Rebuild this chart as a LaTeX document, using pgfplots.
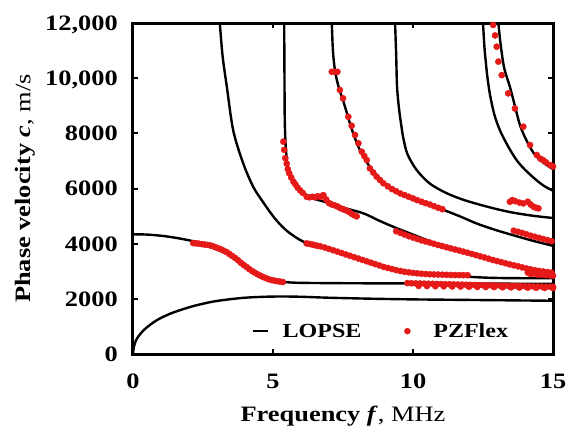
\documentclass[border=0pt]{standalone}
\usepackage{fontspec}
\setmainfont{Liberation Serif}[FakeStretch=1.2]
\usepackage{pgfplots}
\pgfplotsset{compat=1.18}
\definecolor{pzred}{RGB}{230,25,25}

\begin{document}
\begin{tikzpicture}
\begin{axis}[
  scale only axis, width=420bp, height=331bp,
  xmin=0, xmax=15, ymin=0, ymax=12000,
  scaled y ticks=false,
  axis line style={line width=3bp},
  xtick={0,5,10,15}, ytick={0,2000,4000,6000,8000,10000,12000},
  xticklabels={0,5,10,15},
  yticklabels={0,2000,4000,6000,8000,{10,000},{12,000}},
  tick style={line width=2bp, black},
  major tick length=5bp,
  tick align=inside,
  ticklabel style={font=\fontsize{22bp}{26bp}\selectfont\bfseries, inner sep=0pt},
  xticklabel style={anchor=base, yshift=-34bp},
  yticklabel style={anchor=base east, xshift=-15bp, yshift=-7.4bp},
  label style={font=\fontsize{22bp}{26bp}\selectfont},
  xlabel={\textbf{Frequency \textit{f}}, MHz},
  ylabel={\textbf{Phase velocity \textit{c}}, m/s},
  xlabel style={at={(axis description cs:0.5,-0.2054)}, anchor=base},
  ylabel style={at={(axis description cs:-0.257,0.5)}, anchor=center},
  legend columns=2,
  legend style={draw=none, fill=none, at={(axis description cs:0.59,0.069)},
    anchor=center, font=\fontsize{20bp}{24bp}\selectfont\bfseries,
    /tikz/every even column/.append style={column sep=40bp}},
]
% LOPSE dispersion curves
\addplot[black, line width=2.4bp, smooth,
  legend image code/.code={\draw[line width=2.4bp] (0bp,0bp) -- (15bp,0bp);
    \path[draw=none, fill=none] (0bp,0bp) -- (28bp,0bp);}]
  coordinates {(0,0)(0.03,250)(0.1,480)(0.2,650)(0.35,830)(0.5,970)(0.75,1160)
  (1.0,1310)(1.35,1470)(1.68,1590)(2.2,1750)(2.86,1900)(3.5,1990)(4.06,2045)
  (4.7,2075)(5.3,2085)(6,2075)(7,2040)(8.5,2005)(10,1980)(11.5,1965)(13,1950)(15,1930)};
\addlegendentry{LOPSE}
\addplot[black, line width=2.4bp, smooth, forget plot]
  coordinates {(0,4340)(0.5,4330)(1.07,4280)(1.6,4200)(2.15,4090)(2.75,3950)
  (3.35,3700)(3.7,3470)(4.06,3160)(4.42,2910)(4.77,2740)(5.25,2630)(5.8,2585)
  (7,2570)(9,2560)(11,2555)(13,2550)(15,2545)};
\addplot[black, line width=2.4bp, smooth, forget plot]
  coordinates {(3.1,12000)(3.2,10800)(3.35,9700)(3.58,8100)(3.94,6900)(4.3,6050)
  (4.65,5500)(5.0,5000)(5.3,4650)(5.6,4380)(6.07,4080)(6.6,3920)(7.0,3810)
  (7.5,3645)(8.0,3475)(8.46,3320)(9.0,3150)(9.64,2990)(10.5,2900)(11.3,2865)
  (12,2800)(12.7,2765)(13.5,2750)(15,2745)};
\addplot[black, line width=2.4bp, smooth, forget plot]
  coordinates {(5.4,12000)(5.41,10000)(5.42,8500)(5.45,7600)(5.5,7000)(5.57,6600)
  (5.7,6300)(5.85,6065)(6.1,5820)(6.44,5640)(7.04,5460)(7.6,5280)(8.23,5100)
  (8.8,4830)(9.42,4560)(10.0,4330)(10.6,4090)(11.2,3880)(11.8,3710)(12.4,3530)
  (13.0,3350)(13.6,3190)(14.2,3045)(15,2925)};
\addplot[black, line width=2.4bp, smooth, forget plot]
  coordinates {(7.1,12000)(7.14,11000)(7.21,10300)(7.3,9850)(7.4,9500)(7.5,9200)
  (7.62,8800)(7.75,8350)(7.9,7900)(8.1,7400)(8.35,6950)(8.6,6600)(8.85,6300)
  (9.18,6050)(9.5,5850)(10.0,5600)(10.6,5390)(11.1,5220)(11.7,4980)(12.3,4720)
  (13.0,4480)(13.6,4300)(14.3,4100)(15,3920)};
\addplot[black, line width=2.4bp, smooth, forget plot]
  coordinates {(9.36,12000)(9.40,10800)(9.43,9690)(9.5,8900)(9.58,8300)(9.65,7850)
  (9.8,7250)(10.13,6670)(10.6,6180)(11.2,5830)(11.8,5590)(12.4,5410)(13.0,5250)
  (13.6,5120)(14.3,5010)(15,4930)};
\addplot[black, line width=2.4bp, smooth, forget plot]
  coordinates {(12.5,12000)(12.54,11300)(12.57,10900)(12.65,10100)(12.75,9400)
  (12.9,8700)(13.1,8120)(13.4,7520)(13.7,7030)(14.0,6680)(14.4,6310)(14.7,6080)(15,5920)};
\addplot[black, line width=2.4bp, smooth, forget plot]
  coordinates {(13.05,12000)(13.12,11300)(13.25,10400)(13.46,9690)(13.6,9150)
  (13.82,8300)(14.05,7750)(14.3,7300)(14.6,6980)(15,6700)};
% PZFlex simulation points
\addplot[only marks, mark=*, mark size=3.1bp, color=pzred, mark options={draw=pzred, fill=pzred},
  legend image code/.code={\fill[pzred] (4bp,0bp) circle (3bp);
    \path[draw=none, fill=none] (0bp,0bp) -- (28bp,0bp);}]
  coordinates {
  (2.15,4020)(2.25,4010)(2.35,4000)(2.45,3985)(2.55,3970)(2.65,3955)(2.75,3940)
  (2.85,3910)(2.95,3870)(3.05,3830)(3.15,3790)(3.25,3740)(3.35,3690)(3.45,3620)
  (3.55,3550)(3.65,3480)(3.75,3400)(3.85,3310)(3.95,3230)(4.05,3160)(4.15,3080)
  (4.25,3010)(4.35,2950)(4.45,2890)(4.55,2840)(4.65,2790)(4.75,2750)(4.85,2710)
  (4.95,2680)(5.05,2660)(5.15,2640)(5.25,2625)(5.35,2610)
  (9.8,2570)(9.95,2565)(10.1,2560)(10.25,2556)(10.4,2552)(10.55,2548)(10.7,2545)
  (10.85,2540)(11.0,2536)(11.15,2532)(11.3,2528)(11.45,2524)(11.6,2520)(11.75,2515)
  (11.9,2510)(12.05,2506)(12.2,2502)(12.35,2498)(12.5,2494)(12.65,2490)(12.8,2486)
  (12.95,2482)(13.1,2478)(13.25,2474)(13.4,2470)(13.55,2466)(13.7,2462)(13.85,2458)
  (14.0,2455)(14.15,2452)(14.3,2449)(14.45,2446)(14.6,2443)(14.75,2440)(14.9,2437)(15,2435)
  (10.2,2470)(10.5,2465)(10.8,2460)(11.1,2455)(11.4,2450)(11.7,2445)(12.0,2440)
  (12.3,2435)(12.6,2430)(12.9,2425)(13.2,2420)(13.5,2415)(13.8,2410)(14.1,2405)
  (14.4,2400)(14.7,2395)(15,2390)
  (6.2,4010)(6.3,3990)(6.4,3970)(6.5,3945)(6.6,3920)(6.7,3900)(6.85,3860)(7.0,3810)
  (7.15,3760)(7.3,3710)(7.45,3660)(7.6,3610)(7.75,3560)(7.9,3510)(8.05,3460)
  (8.2,3410)(8.35,3360)(8.5,3310)(8.65,3260)(8.8,3210)(8.95,3160)(9.1,3120)
  (9.25,3080)(9.4,3040)(9.55,3010)(9.7,2980)(9.85,2960)(10.0,2940)(10.15,2925)
  (10.3,2910)(10.45,2900)(10.6,2890)(10.75,2885)(10.9,2880)(11.05,2875)(11.2,2870)
  (11.35,2865)(11.5,2862)(11.65,2860)(11.8,2858)(11.95,2856)
  (5.37,7700)(5.4,7400)(5.44,7100)(5.49,6900)(5.53,6700)(5.58,6550)(5.65,6400)
  (5.73,6250)(5.8,6150)(5.88,6030)(5.97,5930)(6.06,5840)(6.2,5700)(6.3,5680)
  (6.4,5700)(6.5,5680)(6.6,5720)(6.7,5700)(6.8,5760)(6.9,5600)(7.0,5470)(7.1,5420)
  (7.2,5390)(7.3,5350)(7.4,5290)(7.5,5250)(7.6,5210)(7.7,5160)(7.8,5090)(7.9,5030)(7.99,4990)
  (9.4,4450)(9.55,4390)(9.7,4330)(9.85,4270)(10.0,4220)(10.15,4170)(10.3,4120)
  (10.45,4080)(10.6,4040)(10.75,3995)(10.9,3950)(11.05,3910)(11.2,3870)(11.35,3830)
  (11.5,3790)(11.65,3750)(11.8,3710)(11.95,3670)(12.1,3630)(12.25,3585)(12.4,3540)
  (12.55,3500)(12.7,3455)(12.85,3410)(13.0,3370)(13.15,3330)(13.3,3290)(13.45,3250)
  (13.6,3215)(13.75,3180)(13.9,3140)(14.05,3100)(14.2,3070)(14.35,3040)(14.5,3010)
  (14.65,2990)(14.8,2970)(14.95,2950)
  (14.1,2950)(14.2,2900)(14.3,2920)(14.45,2880)(14.6,2870)(14.75,2860)(14.9,2850)(15,2840)
  (7.1,10230)(7.2,10230)(7.3,10230)(7.39,9570)(7.5,9270)(7.69,8600)(7.81,8275)
  (7.93,7940)(8.05,7640)(8.17,7335)(8.26,7180)(8.35,7030)(8.46,6730)(8.58,6580)
  (8.7,6430)(8.82,6310)(8.94,6190)(9.1,6080)(9.25,5980)(9.4,5900)(9.55,5820)
  (9.7,5760)(9.85,5700)(10.0,5640)(10.15,5580)(10.3,5520)(10.45,5470)(10.6,5420)
  (10.75,5360)(10.9,5300)(11.05,5250)
  (13.6,4470)(13.75,4430)(13.9,4390)(14.05,4340)(14.2,4290)(14.35,4250)(14.5,4210)
  (14.65,4170)(14.8,4130)(14.95,4090)
  (13.46,5520)(13.55,5580)(13.65,5540)(13.8,5490)(13.94,5460)(14.1,5520)(14.2,5420)
  (14.3,5340)(14.4,5300)(14.48,5280)
  (12.86,11930)(12.93,11550)(12.99,11140)(13.05,10600)(13.17,10110)(13.4,9450)
  (13.64,8900)(13.94,8240)(14.18,7575)(14.42,7215)(14.55,7080)(14.65,7030)
  (14.75,6950)(14.9,6850)(15,6800)
  };
\addlegendentry{PZFlex}
\end{axis}
\path ([xshift=-133bp,yshift=-73bp]current axis.south west)
  rectangle ([xshift=15bp,yshift=23bp]current axis.north east);
\end{tikzpicture}
\end{document}
